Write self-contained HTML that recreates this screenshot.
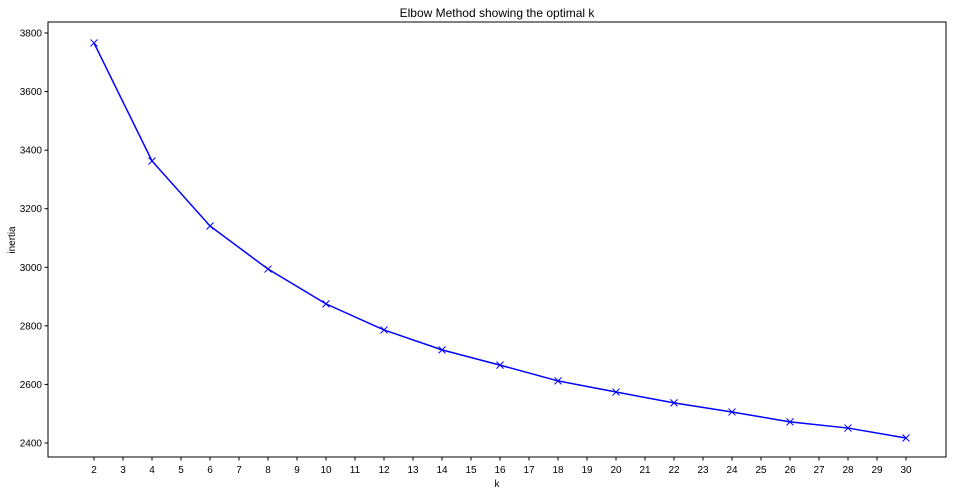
<!DOCTYPE html>
<html><head><meta charset="utf-8"><style>
body{margin:0;background:#fff;width:953px;height:496px;overflow:hidden}
svg{display:block;font-family:"Liberation Sans","DejaVu Sans",sans-serif}
</style></head><body>
<svg id="chart" width="953" height="496">
<rect x="48" y="22" width="898" height="435" fill="#fff" stroke="#000" stroke-width="1"/>
<text x="497" y="17" font-size="12" text-anchor="middle">Elbow Method showing the optimal k</text>
<text x="497" y="487" font-size="10" text-anchor="middle">k</text>
<text x="15" y="240" font-size="10" text-anchor="middle" transform="rotate(-90 15 240)">inertia</text>
<g id="axes"></g><g id="series"></g>
</svg>
<script>
const kValues=[2,4,6,8,10,12,14,16,18,20,22,24,26,28,30];
const inertia=[3766,3363,3141,2994,2875,2786,2718,2666,2612,2574,2537,2506,2472,2451,2417];
const xTicks=[2,3,4,5,6,7,8,9,10,11,12,13,14,15,16,17,18,19,20,21,22,23,24,25,26,27,28,29,30];
const yTicks=[2400,2600,2800,3000,3200,3400,3600,3800];
const NS="http://www.w3.org/2000/svg";
function xs(v){return 94+(v-2)*(906-94)/28;}
function ys(v){return 443-(v-2400)*(443-33)/1400;}
const axes=document.getElementById('axes'),ser=document.getElementById('series');
function mk(tag,at,parent){const e=document.createElementNS(NS,tag);for(const k in at)e.setAttribute(k,at[k]);parent.appendChild(e);return e;}
xTicks.forEach(t=>{const x=xs(t);
 const l=mk('line',{x1:x,x2:x,y1:457,y2:460.5,stroke:'#000'},axes);
 
 
 const tx=mk('text',{x:x,y:473,'font-size':10,'text-anchor':'middle'},axes);tx.textContent=t;
 
 });
yTicks.forEach(t=>{const y=ys(t);
 const l=mk('line',{x1:44.5,x2:48,y1:y,y2:y,stroke:'#000'},axes);
 
 
 const tx=mk('text',{x:42,y:y+3.5,'font-size':10,'text-anchor':'end'},axes);tx.textContent=t;
 
 });
const pts=kValues.map((k,i)=>xs(k)+','+ys(inertia[i])).join(' ');
const pl=mk('polyline',{points:pts,fill:'none',stroke:'#0000ff','stroke-width':1.5},ser);


kValues.forEach((k,i)=>{const x=xs(k),y=ys(inertia[i]);
 const p=mk('path',{d:`M${x-3.5},${y-3.5}L${x+3.5},${y+3.5}M${x-3.5},${y+3.5}L${x+3.5},${y-3.5}`,stroke:'#0000ff','stroke-width':1},ser);
 
 });
</script>
</body></html>
